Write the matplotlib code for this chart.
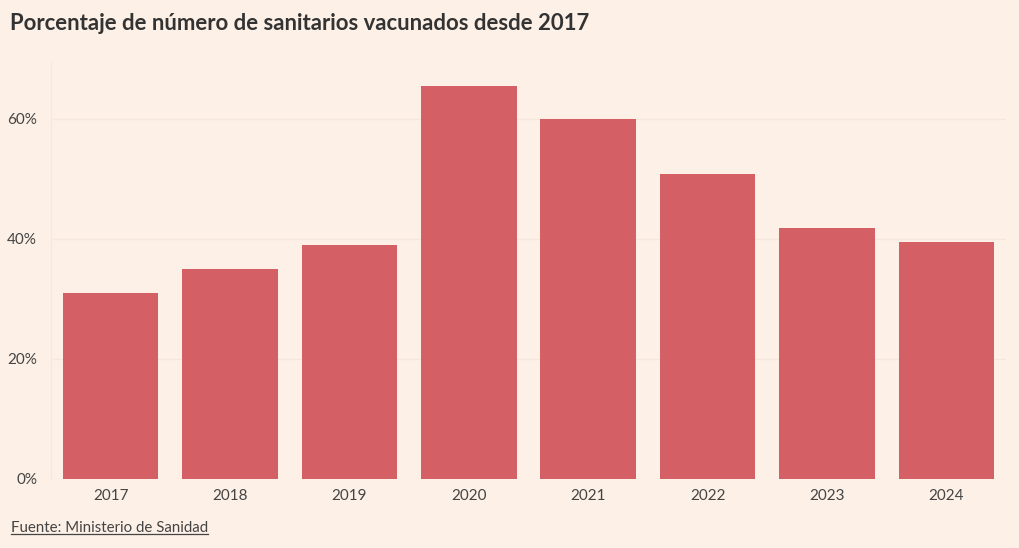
import matplotlib
matplotlib.use("Agg")
import matplotlib.pyplot as plt
from matplotlib.ticker import FuncFormatter

# Datos
years = ["2017", "2018", "2019", "2020", "2021", "2022", "2023", "2024"]
pct_vacunados = [31.0, 35.0, 39.0, 65.5, 60.0, 50.8, 41.8, 39.5]
y_ticks = [0, 20, 40, 60]

bg = "#fdf0e6"
bar_color = "#d45f64"
text_color = "#444444"

plt.rcParams["font.family"] = ["Lato", "DejaVu Sans"]

fig = plt.figure(figsize=(10.2, 5.48), dpi=100, facecolor=bg)
ax = fig.add_axes([51 / 1020, 1 - 479 / 548, (1006 - 51) / 1020, (479 - 62) / 548])
ax.set_facecolor(bg)

x = range(len(years))
ax.bar(x, pct_vacunados, width=0.8, color=bar_color, zorder=3)

ax.set_xlim(-0.5, len(years) - 0.5)
ax.set_ylim(0, 69.5)
ax.set_xticks(list(x))
ax.set_xticklabels(years)
ax.set_yticks(y_ticks)
ax.yaxis.set_major_formatter(FuncFormatter(lambda v, p: f"{v:.0f}%"))
ax.tick_params(axis="both", length=0, labelsize=11, colors=text_color)
ax.tick_params(axis="x", pad=7)
ax.tick_params(axis="y", pad=10)
ax.grid(axis="y", color="#f6e6dc", linewidth=1, zorder=0)

for side in ["top", "right", "bottom"]:
    ax.spines[side].set_visible(False)
ax.spines["left"].set_color("#f6e6dc")

# Título
fig.text(10 / 1020, 1 - 23 / 548, "Porcentaje de número de sanitarios vacunados desde 2017",
         fontsize=15.9, fontweight="bold", color="#333333", va="center", ha="left")

# Fuente subrayada
src = fig.text(11 / 1020, 1 - 528 / 548, "Fuente: Ministerio de Sanidad",
               fontsize=10.8, color=text_color, va="center", ha="left")
fig.canvas.draw()
bb = src.get_window_extent().transformed(fig.transFigure.inverted())
fig.add_artist(plt.Line2D([bb.x0, bb.x1], [bb.y0 + 0.001, bb.y0 + 0.001],
                          transform=fig.transFigure, color=text_color, linewidth=0.9))

fig.savefig("out.png", dpi=100, facecolor=bg)
